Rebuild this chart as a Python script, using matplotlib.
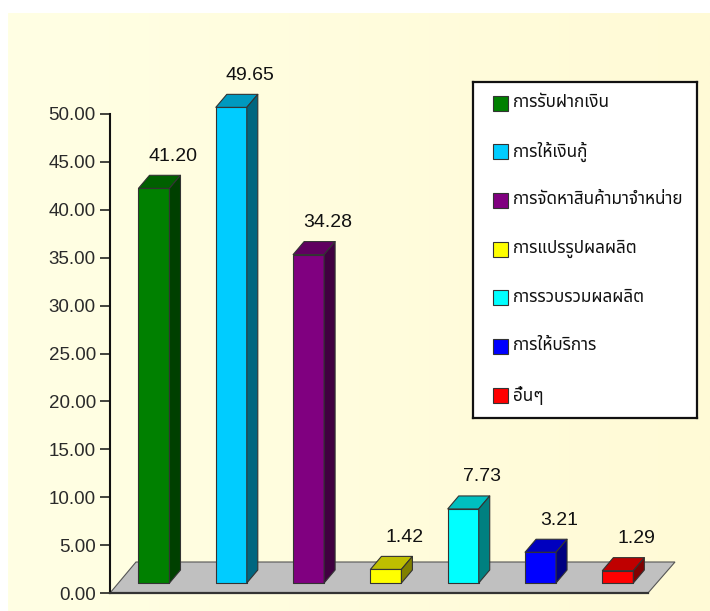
import numpy as np
import matplotlib
matplotlib.use("Agg")
import matplotlib.pyplot as plt
from matplotlib import font_manager
from matplotlib.ft2font import FT2Font
from matplotlib.patches import Polygon, Rectangle
import matplotlib.colors as mcolors

# ---------------- data ----------------
categories = ["การรับฝากเงิน", "การให้เงินกู้", "การจัดหาสินค้ามาจำหน่าย",
              "การแปรรูปผลผลิต", "การรวบรวมผลผลิต", "การให้บริการ", "อื่นๆ"]
values = [41.20, 49.65, 34.28, 1.42, 7.73, 3.21, 1.29]
value_labels = ["41.20", "49.65", "34.28", "1.42", "7.73", "3.21", "1.29"]
colors = ["#008000", "#00CCFF", "#800080", "#FFFF00", "#00FFFF", "#0000FF", "#FF0000"]
y_ticks = [0, 5, 10, 15, 20, 25, 30, 35, 40, 45, 50]
y_tick_labels = ["0.00", "5.00", "10.00", "15.00", "20.00", "25.00",
                 "30.00", "35.00", "40.00", "45.00", "50.00"]


# ---------------- fonts ----------------
def find_thai_font():
    preferred = ["Tahoma", "Noto Sans Thai", "Noto Sans Thai UI", "Loma", "Garuda",
                 "Sarabun", "Waree", "Umpush", "Kinnari", "Norasi", "Leelawadee UI",
                 "Noto Serif Thai"]
    found = {}
    for f in font_manager.fontManager.ttflist:
        if f.name in found:
            continue
        try:
            cm = FT2Font(f.fname).get_charmap()
        except Exception:
            continue
        if 0x0E01 in cm and 0x0E34 in cm:
            found[f.name] = f.fname
    for p in preferred:
        if p in found:
            return p
    return sorted(found)[0] if found else None


thai = find_thai_font()
num_family = ["Liberation Sans", "DejaVu Sans"]
thai_family = ([thai] if thai else []) + ["Liberation Sans", "DejaVu Sans"]
plt.rcParams["font.family"] = num_family

# ---------------- figure ----------------
W, H = 710, 611
fig = plt.figure(figsize=(W / 100, H / 100), dpi=100)
fig.patch.set_facecolor("white")

# yellow panel (light gradient)
bg = fig.add_axes([8 / W, 0, 1 - 8 / W, 1 - 13 / H], zorder=-10)
c1 = np.array(mcolors.to_rgb("#FFFFE4"))
c2 = np.array(mcolors.to_rgb("#FFFAD6"))
t = np.linspace(0, 1, 256)[None, :, None]
grad = c1 + (c2 - c1) * t
bg.imshow(grad, aspect="auto", extent=[0, 1, 0, 1])
bg.set_axis_off()

# main axes
ax = fig.add_axes([110 / W, 1 - 593 / H, (648 - 110) / W, (593 - 114) / H])
ax.set_xlim(-0.569, 6.39)
ax.set_ylim(0, 50)
ax.patch.set_alpha(0)
for s in ("top", "right"):
    ax.spines[s].set_visible(False)
ax.spines["left"].set_linewidth(1.5)
ax.spines["left"].set_color("#111111")
ax.spines["bottom"].set_linewidth(1.6)
ax.spines["bottom"].set_color("#333333")
ax.spines["left"].set_zorder(5)
ax.spines["bottom"].set_zorder(5)
ax.set_xticks([])
ax.set_yticks(y_ticks, y_tick_labels)
ax.tick_params(axis="y", direction="out", length=7.2, width=1.1, pad=3,
               labelsize=13.5, labelcolor="#2a2a2a", color="#111111")

# pixel -> data conversions
p0 = ax.transData.transform((0, 0))
p1 = ax.transData.transform((1, 1))
px_x = p1[0] - p0[0]
px_y = p1[1] - p0[1]


def dx(px):
    return px / px_x


def dy(px):
    return px / px_y


xmin, xmax = ax.get_xlim()

# floor
floor = Polygon([(xmin, 0), (xmax, 0), (xmax + dx(27), dy(31)), (xmin + dx(26), dy(31))],
                closed=True, facecolor="#C0C0C0", edgecolor="#555555", lw=0.8,
                clip_on=False, zorder=1)
ax.add_patch(floor)

# bars
base = dy(10)
half = dx(15.5)
ddx, ddy = dx(11), dy(13)
for i, (v, col) in enumerate(zip(values, colors)):
    rgb = np.array(mcolors.to_rgb(col))
    top_c = rgb * 0.75
    side_c = rgb * 0.5
    x0, x1 = i - half, i + half
    y0, y1 = base, base + v
    kw = dict(edgecolor="#333333", lw=0.8, clip_on=False, zorder=3, joinstyle="round")
    ax.add_patch(Polygon([(x0, y0), (x1, y0), (x1, y1), (x0, y1)], facecolor=rgb, **kw))
    ax.add_patch(Polygon([(x0, y1), (x1, y1), (x1 + ddx, y1 + ddy), (x0 + ddx, y1 + ddy)],
                         facecolor=top_c, **kw))
    ax.add_patch(Polygon([(x1, y0), (x1 + ddx, y0 + ddy), (x1 + ddx, y1 + ddy), (x1, y1)],
                         facecolor=side_c, **kw))
    ax.annotate(value_labels[i], xy=(i, y1), xytext=(19 * 0.72, 32 * 0.72),
                textcoords="offset points", ha="center", va="center",
                fontsize=14, color="#111111", zorder=6, annotation_clip=False)

# legend box
lax = fig.add_axes([473 / W, 1 - 418 / H, 224 / W, 336 / H])
lax.set_xlim(0, 224)
lax.set_ylim(336, 0)
lax.set_facecolor("white")
for s in lax.spines.values():
    s.set_linewidth(1.6)
    s.set_color("#111111")
lax.set_xticks([])
lax.set_yticks([])
for k, (name, col) in enumerate(zip(categories, colors)):
    yc = 21 + 48.7 * k
    lax.add_patch(Rectangle((20, yc - 7.5), 15, 15, facecolor=col, edgecolor="#333333", lw=0.8))
    lax.text(40, yc, name, ha="left", va="center", fontsize=12.3,
             family=thai_family, color="#111111")

fig.savefig("out.png", dpi=100, facecolor=fig.get_facecolor())
